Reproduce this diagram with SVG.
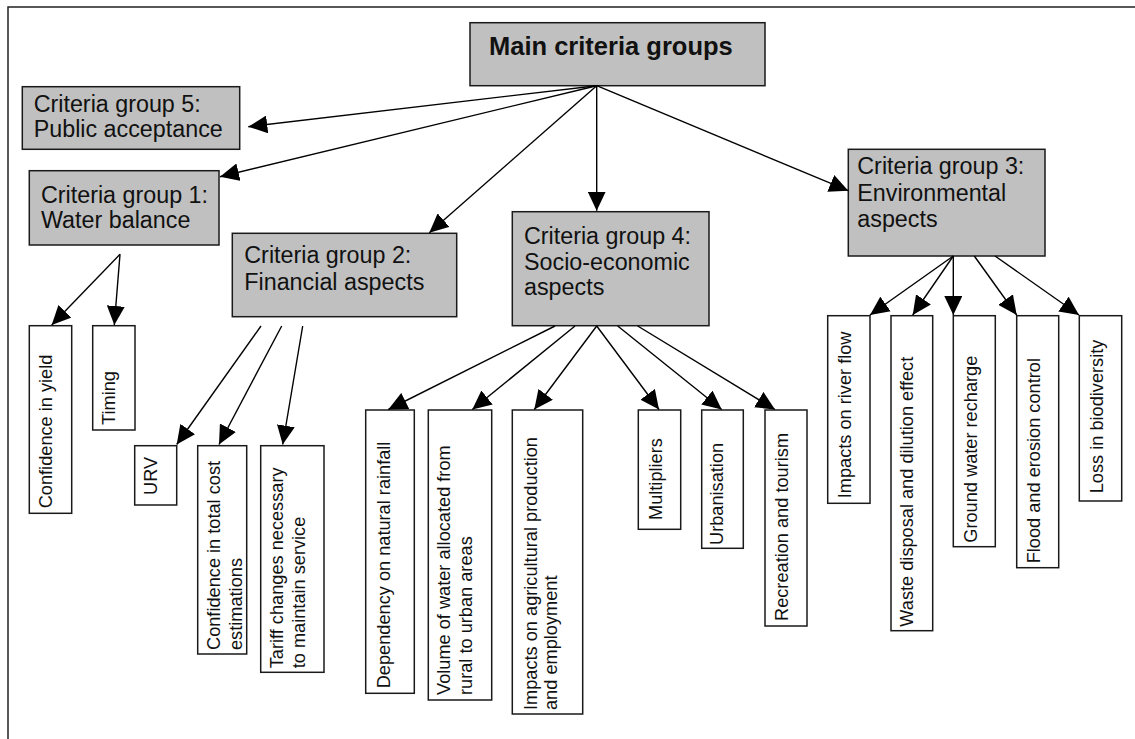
<svg xmlns="http://www.w3.org/2000/svg" width="1135" height="739" viewBox="0 0 1135 739">
<defs>
<style>
.frame{fill:none;stroke:#222;stroke-width:1.5}
.grp rect{fill:#c0c0c0;stroke:#1a1a1a;stroke-width:1.5}
.grp text{font-family:"Liberation Sans",Arial,sans-serif;font-size:23.3px;fill:#111}
.main text{font-weight:bold;font-size:25.5px}
.leaf rect{fill:#fff;stroke:#1a1a1a;stroke-width:1.5}
.leaf text{font-family:"Liberation Sans",Arial,sans-serif;font-size:18.2px;fill:#111}
#connectors line{stroke:#000;stroke-width:1.4;marker-end:url(#arr)}
</style>
<marker id="arr" markerUnits="userSpaceOnUse" viewBox="0 0 19 18" refX="19" refY="9" markerWidth="19" markerHeight="18" orient="auto">
<path d="M0,0 L19,9 L0,18 z" fill="#000"/>
</marker>
</defs>
<rect width="1135" height="739" fill="#fff"/>
<rect class="frame" x="8" y="7" width="1140" height="745"/>

<!-- top level -->
<g id="main" class="grp main">
<rect x="470" y="22.7" width="295" height="63"/>
<text x="489" y="55">Main criteria groups</text>
</g>

<!-- criteria groups -->
<g id="group5" class="grp">
<rect x="22.3" y="86.7" width="217.4" height="62.6"/>
<text x="33.7" y="111.7">Criteria group 5:</text>
<text x="33.7" y="137.3">Public acceptance</text>
</g>
<g id="group1" class="grp">
<rect x="29.3" y="170.7" width="189.7" height="74.3"/>
<text x="41" y="203">Criteria group 1:</text>
<text x="41" y="228">Water balance</text>
</g>
<g id="group2" class="grp">
<rect x="232.3" y="233.3" width="224.4" height="83.4"/>
<text x="244.3" y="263.3">Criteria group 2:</text>
<text x="244.3" y="290">Financial aspects</text>
</g>
<g id="group4" class="grp">
<rect x="512.3" y="211.7" width="196.7" height="114"/>
<text x="524" y="244">Criteria group 4:</text>
<text x="524" y="269.5">Socio-economic</text>
<text x="524" y="295">aspects</text>
</g>
<g id="group3" class="grp">
<rect x="848.3" y="149.3" width="196.7" height="106.7"/>
<text x="857.3" y="174">Criteria group 3:</text>
<text x="857.3" y="200.5">Environmental</text>
<text x="857.3" y="227">aspects</text>
</g>

<!-- individual criteria (vertical labels) -->
<g id="conf-yield" class="leaf">
<rect x="29.3" y="325.7" width="42.4" height="187.6"/>
<text transform="translate(52.3,508.3) rotate(-90)">Confidence in yield</text>
</g>
<g id="timing" class="leaf">
<rect x="92.7" y="325.7" width="42.3" height="104.3"/>
<text transform="translate(115,425) rotate(-90)">Timing</text>
</g>
<g id="urv" class="leaf">
<rect x="134.7" y="445.7" width="42" height="59.3"/>
<text transform="translate(156.7,495) rotate(-90)">URV</text>
</g>
<g id="conf-cost" class="leaf">
<rect x="197.7" y="445.7" width="49" height="208.3"/>
<text transform="translate(220,650) rotate(-90)"><tspan x="0" y="0">Confidence in total cost</tspan><tspan x="0" y="21.7">estimations</tspan></text>
</g>
<g id="tariff" class="leaf">
<rect x="260.7" y="445.7" width="63.3" height="226.6"/>
<text transform="translate(283.3,668.3) rotate(-90)"><tspan x="0" y="0">Tariff changes necessary</tspan><tspan x="0" y="21.7">to maintain service</tspan></text>
</g>
<g id="dependency" class="leaf">
<rect x="365.7" y="410" width="48.6" height="283.3"/>
<text transform="translate(390,688.3) rotate(-90)">Dependency on natural rainfall</text>
</g>
<g id="volume" class="leaf">
<rect x="428.3" y="410" width="63.4" height="290"/>
<text transform="translate(450,695) rotate(-90)"><tspan x="0" y="0">Volume of water allocated from</tspan><tspan x="0" y="21.5">rural to urban areas</tspan></text>
</g>
<g id="agri" class="leaf">
<rect x="512.3" y="410" width="70.4" height="304"/>
<text transform="translate(536.7,710) rotate(-90)"><tspan x="0" y="0">Impacts on agricultural production</tspan><tspan x="0" y="20.5">and employment</tspan></text>
</g>
<g id="multipliers" class="leaf">
<rect x="638.3" y="410" width="42.4" height="119.3"/>
<text transform="translate(661.7,520) rotate(-90)">Multipliers</text>
</g>
<g id="urbanisation" class="leaf">
<rect x="701.7" y="410" width="41.6" height="138.3"/>
<text transform="translate(723.3,545) rotate(-90)">Urbanisation</text>
</g>
<g id="recreation" class="leaf">
<rect x="765" y="410" width="42" height="216"/>
<text transform="translate(788,621) rotate(-90)">Recreation and tourism</text>
</g>
<g id="river-flow" class="leaf">
<rect x="827.7" y="315.7" width="42.3" height="187.6"/>
<text transform="translate(850.7,498.3) rotate(-90)">Impacts on river flow</text>
</g>
<g id="waste" class="leaf">
<rect x="891" y="315.7" width="41.7" height="315"/>
<text transform="translate(913.3,626.7) rotate(-90)">Waste disposal and dilution effect</text>
</g>
<g id="groundwater" class="leaf">
<rect x="953.3" y="315.7" width="42" height="231"/>
<text transform="translate(977,542.7) rotate(-90)">Ground water recharge</text>
</g>
<g id="flood" class="leaf">
<rect x="1016.7" y="315.7" width="42" height="252"/>
<text transform="translate(1040,563.3) rotate(-90)">Flood and erosion control</text>
</g>
<g id="biodiversity" class="leaf">
<rect x="1079.3" y="315.7" width="42.4" height="185.3"/>
<text transform="translate(1102.7,493.3) rotate(-90)">Loss in biodiversity</text>
</g>

<!-- arrows -->
<g id="connectors">
<line x1="596.7" y1="85.7" x2="248.3" y2="126.7"/>
<line x1="596.7" y1="85.7" x2="220" y2="176.7"/>
<line x1="596.7" y1="85.7" x2="429.3" y2="232.7"/>
<line x1="596.7" y1="85.7" x2="596.7" y2="210.7"/>
<line x1="596.7" y1="85.7" x2="848.3" y2="190.7"/>

<line x1="120" y1="254.3" x2="51.7" y2="325"/>
<line x1="120" y1="254.3" x2="114.3" y2="325"/>

<line x1="261" y1="326" x2="176.7" y2="444.5"/>
<line x1="281.7" y1="326" x2="219" y2="444.5"/>
<line x1="302.7" y1="326" x2="282.7" y2="444.5"/>

<line x1="555" y1="326" x2="388.3" y2="409.5"/>
<line x1="575" y1="326" x2="472.3" y2="409.5"/>
<line x1="596.7" y1="326" x2="534.3" y2="409.5"/>
<line x1="596.7" y1="326" x2="659" y2="409.5"/>
<line x1="617.7" y1="326" x2="721.7" y2="409.5"/>
<line x1="637.7" y1="326" x2="775" y2="409.5"/>

<line x1="953.3" y1="256" x2="870" y2="315"/>
<line x1="953.3" y1="256" x2="912.7" y2="315"/>
<line x1="953.3" y1="256" x2="953.3" y2="315"/>
<line x1="974.3" y1="256" x2="1016.7" y2="315"/>
<line x1="995" y1="256" x2="1079" y2="315"/>
</g>
</svg>
